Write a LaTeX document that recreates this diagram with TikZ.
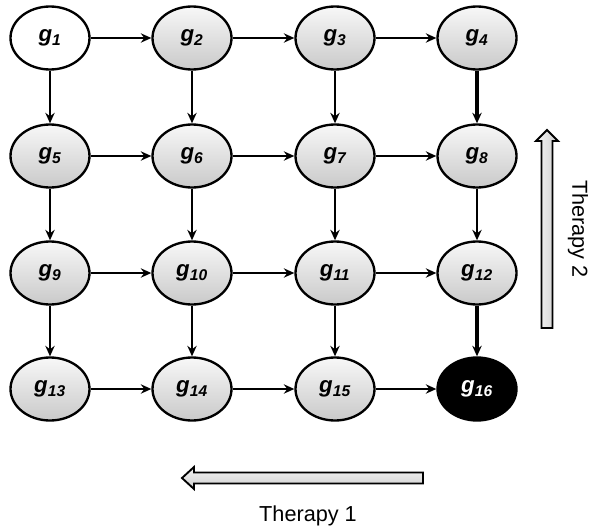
\documentclass[tikz,border=0pt]{standalone}
\usepackage{fontspec}
\setmainfont{Liberation Sans}
\usetikzlibrary{arrows.meta,shapes.geometric}

\newcommand{\gname}[1]{{\bfseries\itshape g\textsubscript{#1}}}

\tikzset{
  gene/.style={ellipse, draw, line width=2pt, minimum width=2.37cm, minimum height=1.89cm,
               inner sep=0pt, top color=gray!6, bottom color=gray!42, font=\fontsize{19}{22}\selectfont},
  start/.style={gene, top color=white, bottom color=white},
  goal/.style={gene, fill=black, top color=black, bottom color=black, text=white},
  link/.style={line width=1.3pt, -{Stealth[length=9pt,width=8pt,inset=3pt]}},
  strong/.style={link, line width=2.8pt},
  therapy/.style={draw, line width=1.6pt, line join=miter}
}

\begin{document}
\begin{tikzpicture}[x=0.03cm,y=-0.03cm]
\useasboundingbox (0,0) rectangle (589,531);

% genes
\node[start] (g1)  at (50,38)   {\gname{1}};
\node[gene]  (g2)  at (192,38)  {\gname{2}};
\node[gene]  (g3)  at (335,38)  {\gname{3}};
\node[gene]  (g4)  at (477,38)  {\gname{4}};
\node[gene]  (g5)  at (50,156)  {\gname{5}};
\node[gene]  (g6)  at (192,156) {\gname{6}};
\node[gene]  (g7)  at (335,156) {\gname{7}};
\node[gene]  (g8)  at (477,156) {\gname{8}};
\node[gene]  (g9)  at (50,273)  {\gname{9}};
\node[gene]  (g10) at (192,273) {\gname{10}};
\node[gene]  (g11) at (335,273) {\gname{11}};
\node[gene]  (g12) at (477,273) {\gname{12}};
\node[gene]  (g13) at (50,389)  {\gname{13}};
\node[gene]  (g14) at (192,389) {\gname{14}};
\node[gene]  (g15) at (335,389) {\gname{15}};
\node[goal]  (g16) at (477,389) {\gname{16}};

% rows
\draw[link] (g1) -- (g2);   \draw[link] (g2) -- (g3);   \draw[link] (g3) -- (g4);
\draw[link] (g5) -- (g6);   \draw[link] (g6) -- (g7);   \draw[link] (g7) -- (g8);
\draw[link] (g9) -- (g10);  \draw[link] (g10) -- (g11); \draw[link] (g11) -- (g12);
\draw[link] (g13) -- (g14); \draw[link] (g14) -- (g15); \draw[link] (g15) -- (g16);

% columns
\draw[link] (g1) -- (g5);   \draw[link] (g5) -- (g9);   \draw[link] (g9) -- (g13);
\draw[link] (g2) -- (g6);   \draw[link] (g6) -- (g10);  \draw[link] (g10) -- (g14);
\draw[link] (g3) -- (g7);   \draw[link] (g7) -- (g11);  \draw[link] (g11) -- (g15);
\draw[strong] (g4) -- (g8); \draw[link] (g8) -- (g12);  \draw[strong] (g12) -- (g16);

% therapies
\shade[therapy, top color=gray!8, bottom color=gray!38]
  (182,478) -- (194,467) -- (194,472.5) -- (423,472.5) -- (423,483.5)
  -- (194,483.5) -- (194,489) -- cycle;
\shade[therapy, left color=gray!8, right color=gray!38]
  (547,130) -- (558,141) -- (552.5,141) -- (552.5,328) -- (541.5,328)
  -- (541.5,141) -- (536,141) -- cycle;
\node[font=\fontsize{18.5}{22}\selectfont] (t1) at (308,516) {Therapy 1};
\node[font=\fontsize{18.5}{22}\selectfont, rotate=-90] (t2) at (578,229) {Therapy 2};
\end{tikzpicture}
\end{document}
